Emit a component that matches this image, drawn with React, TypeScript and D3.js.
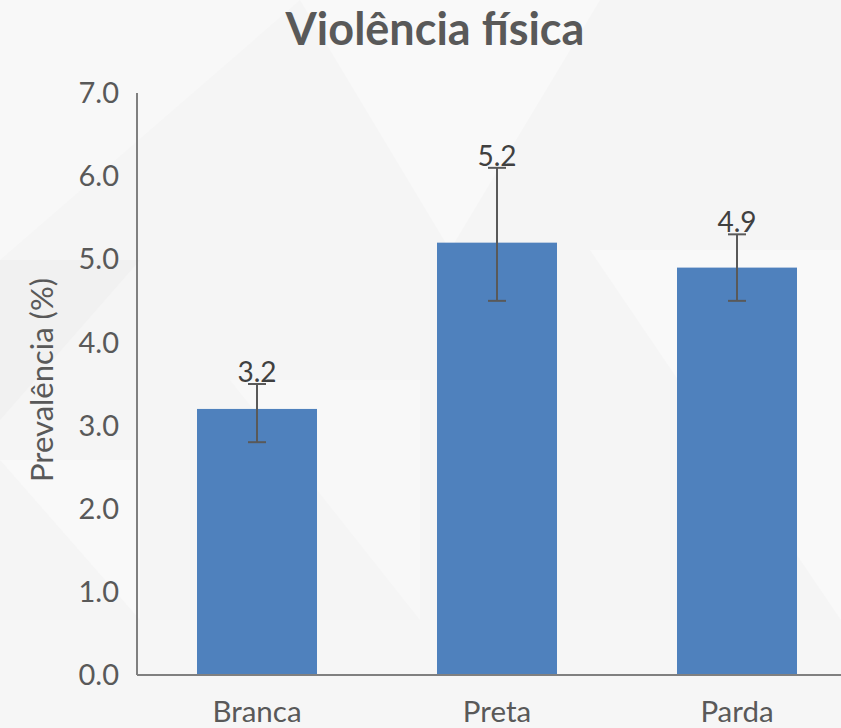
import React from "react";
import * as d3 from "d3";

const categories = ["Branca", "Preta", "Parda"];
const values = [3.2, 5.2, 4.9];
const lower = [2.8, 4.5, 4.5];
const upper = [3.5, 6.1, 5.3];
const yTicks = [0, 1, 2, 3, 4, 5, 6, 7];
const title = "Violência física";
const yTitle = "Prevalência (%)";

const W = 841;
const H = 728;
const FONT = "Lato, 'Open Sans', sans-serif";

export default function App() {
  const x = d3
    .scaleBand<string>()
    .domain(categories)
    .range([137, 857])
    .paddingInner(0.5)
    .paddingOuter(0.25);
  const y = d3.scaleLinear().domain([0, 7]).range([675, 93]);
  const fmt = d3.format(".1f");

  return (
    <svg
      width={W}
      height={H}
      style={{ position: "fixed", left: 0, top: 0, display: "block" }}
      fontFamily={FONT}
    >
      <rect x={0} y={0} width={W} height={H} fill="#f5f5f5" />
      {/* decorative faceted background */}
      <polygon points="0,0 300,0 0,260" fill="#f8f8f8" />
      <polygon points="300,0 600,0 450,250" fill="#f9f9f9" />
      <polygon points="590,250 841,250 841,620" fill="#f9f9f9" />
      <polygon points="0,260 140,260 0,420" fill="#f1f1f1" />
      <polygon points="230,380 420,380 420,620" fill="#f8f8f8" />
      <polygon points="0,620 841,620 841,728 0,728" fill="#f6f6f6" />
      <polygon points="0,460 140,460 140,620" fill="#f9f9f9" />

      <text
        x={435}
        y={45}
        textAnchor="middle"
        fontSize={45}
        fontWeight="bold"
        fill="#595959"
      >
        {title}
      </text>

      {/* bars */}
      {categories.map((c, i) => (
        <rect
          key={c}
          x={x(c)}
          y={y(values[i])}
          width={x.bandwidth()}
          height={y(0) - y(values[i])}
          fill="#4f81bd"
        />
      ))}

      {/* error bars */}
      {categories.map((c, i) => {
        const cx = (x(c) as number) + x.bandwidth() / 2;
        return (
          <g key={c} stroke="#595959" strokeWidth={2}>
            <line x1={cx} x2={cx} y1={y(lower[i])} y2={y(upper[i])} />
            <line x1={cx - 9} x2={cx + 9} y1={y(lower[i])} y2={y(lower[i])} />
            <line x1={cx - 9} x2={cx + 9} y1={y(upper[i])} y2={y(upper[i])} />
          </g>
        );
      })}

      {/* data labels */}
      {categories.map((c, i) => (
        <text
          key={c}
          x={(x(c) as number) + x.bandwidth() / 2}
          y={y(upper[i]) - 2}
          textAnchor="middle"
          fontSize={28}
          fill="#404040"
        >
          {fmt(values[i])}
        </text>
      ))}

      {/* axes */}
      <line x1={137} x2={137} y1={y(7)} y2={y(0)} stroke="#808080" strokeWidth={2} />
      <line x1={137} x2={W} y1={y(0)} y2={y(0)} stroke="#808080" strokeWidth={2} />

      {yTicks.map((t) => (
        <text
          key={t}
          x={119}
          y={y(t)}
          dy="0.35em"
          textAnchor="end"
          fontSize={29}
          fill="#595959"
        >
          {fmt(t)}
        </text>
      ))}

      {categories.map((c) => (
        <text
          key={c}
          x={(x(c) as number) + x.bandwidth() / 2}
          y={722}
          textAnchor="middle"
          fontSize={29.5}
          fill="#595959"
        >
          {c}
        </text>
      ))}

      <text
        transform={`translate(53, ${380}) rotate(-90)`}
        textAnchor="middle"
        fontSize={31}
        fill="#595959"
      >
        {yTitle}
      </text>
    </svg>
  );
}
